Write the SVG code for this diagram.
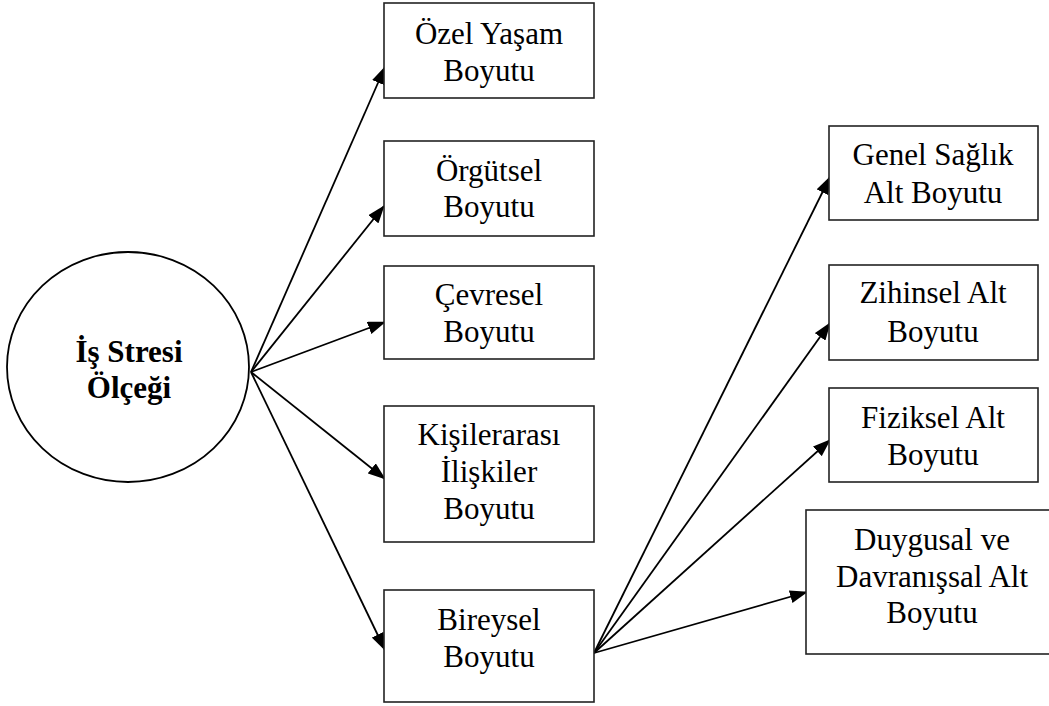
<svg xmlns="http://www.w3.org/2000/svg" width="1049" height="706" viewBox="0 0 1049 706">
<style>
.box{fill:#fff;stroke:#222;stroke-width:1.6}
.t{font-family:"Liberation Serif","Times New Roman",serif;font-size:31px;fill:#000;text-anchor:middle}
.b{font-weight:bold}
.c{stroke:#000;stroke-width:1.8;fill:none}
</style>
<defs>
<marker id="ah" markerUnits="userSpaceOnUse" markerWidth="18" markerHeight="13" refX="17" refY="6.5" orient="auto" viewBox="0 0 18 13">
<path d="M0,0 L18,6.5 L0,13 z" fill="#000"/>
</marker>
</defs>
<rect width="1049" height="706" fill="#fff"/>
<g id="connectors">
<line class="c" x1="251" y1="372" x2="385" y2="67" marker-end="url(#ah)"/>
<line class="c" x1="251" y1="372" x2="384" y2="206" marker-end="url(#ah)" stroke-width="1.3"/>
<line class="c" x1="251" y1="372" x2="385" y2="322" marker-end="url(#ah)"/>
<line class="c" x1="251" y1="372" x2="385" y2="479" marker-end="url(#ah)"/>
<line class="c" x1="251" y1="372" x2="385" y2="650" marker-end="url(#ah)" stroke-width="1.3"/>
<line class="c" x1="594" y1="653" x2="830" y2="177" marker-end="url(#ah)"/>
<line class="c" x1="594" y1="653" x2="830" y2="323" marker-end="url(#ah)" stroke-width="1.3"/>
<line class="c" x1="594" y1="653" x2="830" y2="440" marker-end="url(#ah)"/>
<line class="c" x1="594" y1="653" x2="807" y2="592" marker-end="url(#ah)"/>
</g>
<g id="n-center">
<ellipse cx="128" cy="367" rx="121" ry="115" fill="#fff" stroke="#000" stroke-width="1.8"/>
<text class="t b" x="129" y="362" font-size="32">İş Stresi</text>
<text class="t b" x="129" y="398" font-size="32">Ölçeği</text>
</g>
<g id="n-ozel">
<rect class="box" x="384" y="3" width="210" height="95"/>
<text class="t" x="489" y="44">Özel Yaşam</text>
<text class="t" x="489" y="81">Boyutu</text>
</g>
<g id="n-orgutsel">
<rect class="box" x="384" y="141" width="210" height="95"/>
<text class="t" x="489" y="181">Örgütsel</text>
<text class="t" x="489" y="217">Boyutu</text>
</g>
<g id="n-cevresel">
<rect class="box" x="384" y="266" width="210" height="93"/>
<text class="t" x="489" y="305">Çevresel</text>
<text class="t" x="489" y="342">Boyutu</text>
</g>
<g id="n-kisilerarasi">
<rect class="box" x="384" y="406" width="210" height="136"/>
<text class="t" x="489" y="445">Kişilerarası</text>
<text class="t" x="489" y="482">İlişkiler</text>
<text class="t" x="489" y="519">Boyutu</text>
</g>
<g id="n-bireysel">
<rect class="box" x="384" y="590" width="210" height="112"/>
<text class="t" x="489" y="630">Bireysel</text>
<text class="t" x="489" y="667">Boyutu</text>
</g>
<g id="n-genel">
<rect class="box" x="829" y="126" width="209" height="94"/>
<text class="t" x="933" y="165">Genel Sağlık</text>
<text class="t" x="933" y="203">Alt Boyutu</text>
</g>
<g id="n-zihinsel">
<rect class="box" x="829" y="265" width="209" height="95"/>
<text class="t" x="933" y="303">Zihinsel Alt</text>
<text class="t" x="933" y="342">Boyutu</text>
</g>
<g id="n-fiziksel">
<rect class="box" x="829" y="388" width="209" height="94"/>
<text class="t" x="933" y="428">Fiziksel Alt</text>
<text class="t" x="933" y="465">Boyutu</text>
</g>
<g id="n-duygusal">
<rect class="box" x="806" y="510" width="250" height="144"/>
<text class="t" x="932" y="550">Duygusal ve</text>
<text class="t" x="932" y="587">Davranışsal Alt</text>
<text class="t" x="932" y="623">Boyutu</text>
</g>
</svg>
